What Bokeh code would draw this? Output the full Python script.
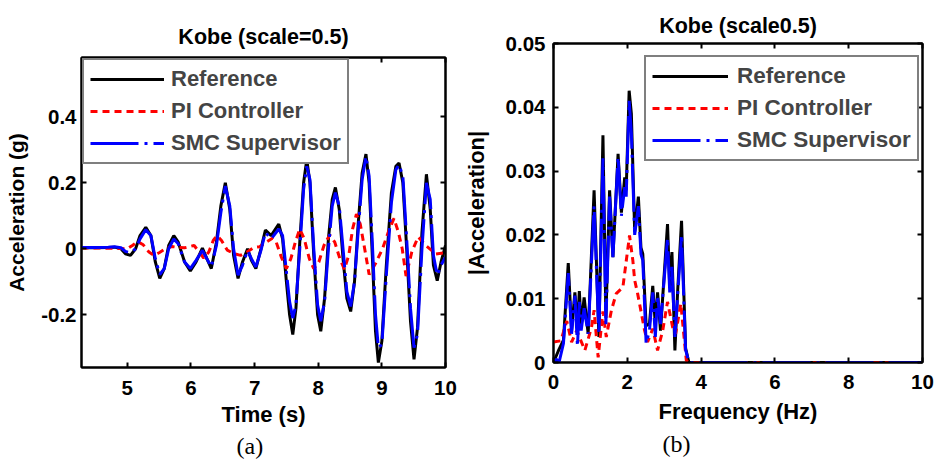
from bokeh.plotting import figure
from bokeh.layouts import row
from bokeh.models import LinearAxis, FixedTicker, Legend, LegendItem, Range1d, Title
from bokeh.embed import file_html
from bokeh.resources import INLINE

# ---------------- data: panel (a) time history ----------------
ref_t = [4.28, 4.5, 4.7, 4.8, 4.9, 4.97, 5.05, 5.13, 5.2, 5.29, 5.37, 5.44, 5.51, 5.58, 5.65, 5.73,
         5.8, 5.9, 5.99, 6.08, 6.18, 6.25, 6.32, 6.4, 6.47, 6.54, 6.61, 6.67, 6.74, 6.81, 6.89, 6.95,
         7.02, 7.1, 7.17, 7.26, 7.38, 7.44, 7.5, 7.55, 7.6, 7.65, 7.71, 7.77, 7.82, 7.87, 7.93, 7.99,
         8.04, 8.1, 8.16, 8.22, 8.27, 8.33, 8.39, 8.45, 8.51, 8.57, 8.63, 8.69, 8.75, 8.8, 8.85, 8.9,
         8.945, 9.0, 9.07, 9.15, 9.22, 9.27, 9.33, 9.39, 9.45, 9.505, 9.56, 9.63, 9.7, 9.76, 9.81,
         9.87, 9.93, 10.0]
ref_acc = [0.003, 0.003, 0.004, 0.005, 0.0, -0.015, -0.02, 0.0, 0.04, 0.065, 0.04, -0.04, -0.09, -0.06,
           0.01, 0.04, 0.02, -0.04, -0.067, -0.04, 0.002, -0.03, -0.06, 0.02, 0.13, 0.20, 0.12, -0.02,
           -0.09, -0.04, 0.0, -0.035, -0.06, 0.0, 0.057, 0.04, 0.075, 0.03, -0.1, -0.2, -0.26, -0.18,
           0.02, 0.2, 0.27, 0.2, -0.02, -0.2, -0.25, -0.15, 0.03, 0.15, 0.186, 0.12, -0.03, -0.15,
           -0.19, -0.1, 0.08, 0.23, 0.287, 0.2, -0.02, -0.25, -0.345, -0.28, -0.05, 0.17, 0.25, 0.26,
           0.2, 0.0, -0.22, -0.335, -0.24, 0.05, 0.226, 0.12, -0.05, -0.097, -0.04, 0.01]
smc_acc = [0.004, 0.004, 0.005, 0.006, 0.003, -0.008, -0.012, 0.0, 0.03, 0.058, 0.04, -0.03, -0.078,
           -0.06, 0.0, 0.03, 0.015, -0.04, -0.06, -0.035, -0.005, -0.03, -0.055, 0.01, 0.11, 0.19, 0.13,
           0.0, -0.08, -0.05, -0.005, -0.03, -0.055, -0.005, 0.05, 0.03, 0.06, 0.04, -0.07, -0.16, -0.21,
           -0.17, 0.0, 0.18, 0.25, 0.21, 0.0, -0.17, -0.22, -0.16, 0.0, 0.13, 0.17, 0.13, 0.0, -0.13,
           -0.175, -0.1, 0.06, 0.21, 0.28, 0.22, 0.02, -0.2, -0.3, -0.29, -0.08, 0.14, 0.24, 0.255, 0.22,
           0.03, -0.18, -0.30, -0.26, 0.0, 0.2, 0.15, -0.02, -0.08, -0.05, -0.025]
pi_t = [4.28, 4.6, 4.9, 5.0, 5.08, 5.16, 5.25, 5.34, 5.42, 5.5, 5.6, 5.7, 5.8, 5.9, 6.05, 6.13, 6.2,
        6.28, 6.35, 6.41, 6.48, 6.57, 6.68, 6.78, 6.88, 6.99, 7.08, 7.18, 7.28, 7.34, 7.42, 7.5, 7.57,
        7.64, 7.71, 7.78, 7.86, 7.93, 8.01, 8.09, 8.18, 8.26, 8.34, 8.41, 8.48, 8.54, 8.6, 8.66, 8.73,
        8.8, 8.9, 9.01, 9.1, 9.19, 9.26, 9.32, 9.38, 9.47, 9.57, 9.69, 9.85, 10.0]
pi_acc = [0.002, 0.002, 0.001, 0.0, 0.01, 0.022, 0.012, -0.01, -0.02, -0.012, 0.0, 0.007, 0.004, 0.003,
          0.01, -0.01, -0.028, -0.01, 0.025, 0.04, 0.025, -0.004, -0.015, -0.02, -0.01, 0.004, 0.006,
          0.02, 0.032, 0.02, -0.025, -0.06, -0.03, 0.02, 0.06, 0.03, -0.03, -0.06, -0.04, 0.01, 0.042,
          0.02, -0.03, -0.062, -0.02, 0.06, 0.105, 0.075, 0.0, -0.078, -0.045, 0.0, 0.05, 0.092, 0.05,
          0.0, -0.083, -0.01, 0.036, 0.01, -0.016, -0.012]

# ---------------- data: panel (b) spectrum ----------------
ref_f = [0, 0.13, 0.27, 0.40, 0.49, 0.58, 0.65, 0.70, 0.75, 0.83, 0.94, 1.10, 1.23, 1.34, 1.42, 1.52,
         1.61, 1.75, 1.84, 1.93, 1.97, 2.05, 2.11, 2.20, 2.30, 2.37, 2.42, 2.51, 2.60, 2.69, 2.76, 2.82,
         2.90, 3.09, 3.15, 3.21, 3.29, 3.37, 3.47, 3.58, 3.67, 10.0]
ref_mag = [0.0, 0.0018, 0.0035, 0.0156, 0.005, 0.011, 0.0055, 0.0112, 0.0058, 0.0102, 0.0045, 0.027,
           0.004, 0.0356, 0.007, 0.027, 0.0165, 0.0327, 0.0235, 0.029, 0.027, 0.0426, 0.039, 0.0205,
           0.026, 0.018, 0.017, 0.0058, 0.006, 0.012, 0.0058, 0.011, 0.005, 0.0217, 0.0118, 0.0173,
           0.0019, 0.0118, 0.0222, 0.0022, 0.0, 0.0]
smc_f = [0, 0.08, 0.15, 0.27, 0.40, 0.49, 0.58, 0.65, 0.70, 0.75, 0.83, 0.94, 1.10, 1.23, 1.34, 1.42,
         1.52, 1.61, 1.75, 1.84, 1.93, 1.97, 2.05, 2.11, 2.20, 2.30, 2.37, 2.42, 2.51, 2.60, 2.69, 2.76,
         2.82, 2.90, 3.09, 3.15, 3.21, 3.29, 3.37, 3.47, 3.58, 3.67, 10.0]
smc_mag = [0.0, 0.0005, 0.0, 0.003, 0.014, 0.0045, 0.0105, 0.0025, 0.0095, 0.005, 0.0085, 0.0045, 0.0245,
           0.0045, 0.032, 0.006, 0.026, 0.0165, 0.0322, 0.023, 0.0275, 0.026, 0.041, 0.036, 0.020,
           0.0245, 0.017, 0.016, 0.003, 0.005, 0.011, 0.004, 0.0105, 0.006, 0.0195, 0.011, 0.015, 0.004,
           0.011, 0.020, 0.002, 0.0, 0.0]
pi_f = [0, 0.2, 0.36, 0.49, 0.63, 0.85, 1.03, 1.10, 1.21, 1.34, 1.43, 1.57, 1.70, 1.88, 2.06, 2.15,
        2.20, 2.28, 2.47, 2.55, 2.69, 2.82, 2.96, 3.09, 3.23, 3.31, 3.45, 3.6, 3.7, 10.0]
pi_mag = [0.0032, 0.0034, 0.0065, 0.0032, 0.005, 0.0019, 0.0055, 0.0082, 0.0008, 0.008, 0.004, 0.0082,
          0.0108, 0.0118, 0.0199, 0.016, 0.0129, 0.0108, 0.005, 0.0032, 0.0053, 0.0019, 0.005, 0.0095,
          0.0055, 0.0045, 0.0092, 0.0003, 0.0, 0.0]

series_names = ["Reference", "PI Controller", "SMC Supervisor"]

a_xticks = [5, 6, 7, 8, 9, 10]
a_xlabels = ["5", "6", "7", "8", "9", "10"]
a_yticks = [-0.2, 0, 0.2, 0.4]
a_ylabels = ["-0.2", "0", "0.2", "0.4"]
b_xticks = [0, 2, 4, 6, 8, 10]
b_xlabels = ["0", "2", "4", "6", "8", "10"]
b_yticks = [0, 0.01, 0.02, 0.03, 0.04, 0.05]
b_ylabels = ["0", "0.01", "0.02", "0.03", "0.04", "0.05"]

SANS = "Liberation Sans"
SERIF = "Liberation Serif"


def setup_axis(ax, ticks, labels, label, tick_standoff, label_standoff, label_size):
    ax.ticker = FixedTicker(ticks=ticks)
    ax.major_label_overrides = {t: s for t, s in zip(ticks, labels)}
    ax.minor_tick_line_color = None
    ax.major_tick_in = 5
    ax.major_tick_out = 0
    ax.major_tick_line_width = 2
    ax.axis_line_width = 2
    ax.major_label_text_font = SANS
    ax.major_label_text_font_style = "bold"
    ax.major_label_text_font_size = "20.5px"
    ax.major_label_text_color = "black"
    ax.major_label_standoff = tick_standoff
    ax.axis_label = label
    ax.axis_label_text_font = SANS
    ax.axis_label_text_font_style = "bold"
    ax.axis_label_text_font_size = label_size
    ax.axis_label_text_color = "black"
    ax.axis_label_standoff = label_standoff


def tick_only_axis(ticks, gap):
    ax = LinearAxis(ticker=FixedTicker(ticks=ticks))
    ax.major_label_overrides = {t: "" for t in ticks}
    ax.major_label_text_font_size = "1px"
    ax.major_label_standoff = gap
    ax.minor_tick_line_color = None
    ax.major_tick_in = 5
    ax.major_tick_out = 0
    ax.major_tick_line_width = 2
    ax.axis_line_width = 2
    return ax


def make_panel(width, height, bl, br, bt, bb, xr, yr, xt, xl, yt, yl, xlabel, ylabel, ylabel_size,
               xtick_standoff, xlab_standoff, ytick_standoff, ylab_standoff,
               title, title_standoff, title_gap, caption, caption_offset, caption_standoff, xs, ys,
               legend_loc, legend_margin, glyph_w, legend_standoff, legend_size):
    p = figure(width=width, height=height, x_range=Range1d(*xr), y_range=Range1d(*yr),
               output_backend="svg", toolbar_location=None,
               min_border_left=bl, min_border_right=br, min_border_top=bt, min_border_bottom=bb)
    p.frame_align = False
    p.grid.visible = False
    p.outline_line_color = "black"
    p.outline_line_width = 2
    p.background_fill_color = "white"
    p.border_fill_color = "white"
    p.title.text = title
    p.title.align = "center"
    p.title.text_font = SANS
    p.title.text_font_style = "bold"
    p.title.text_font_size = "21.5px"
    p.title.text_color = "black"
    p.title.standoff = title_standoff
    setup_axis(p.xaxis[0], xt, xl, xlabel, xtick_standoff, xlab_standoff, "22px")
    setup_axis(p.yaxis[0], yt, yl, ylabel, ytick_standoff, ylab_standoff, ylabel_size)
    p.add_layout(tick_only_axis(xt, title_gap), "above")
    p.add_layout(tick_only_axis(yt, 0), "right")
    cap = Title(text=caption, align="left", offset=caption_offset, standoff=caption_standoff,
                text_font=SERIF, text_font_style="normal", text_font_size="24px",
                text_color="black")
    p.add_layout(cap, "below")

    r_ref = p.line(xs[0], ys[0], line_color="black", line_width=3)
    r_pi = p.line(xs[1], ys[1], line_color="red", line_width=3, line_dash="7 5")
    r_smc = p.line(xs[2], ys[2], line_color="blue", line_width=3, line_dash="48 6 3 6")
    leg = Legend(items=[LegendItem(label=series_names[0], renderers=[r_ref]),
                        LegendItem(label=series_names[1], renderers=[r_pi]),
                        LegendItem(label=series_names[2], renderers=[r_smc])],
                 location=legend_loc, margin=legend_margin, padding=6,
                 spacing=6, label_height=22,
                 glyph_width=glyph_w, glyph_height=20, label_standoff=legend_standoff,
                 label_text_font=SANS, label_text_font_style="bold",
                 label_text_font_size=legend_size,
                 border_line_color="black", border_line_width=2, background_fill_alpha=1.0)
    p.add_layout(leg)
    return p


# panel (a): page x 0..460, frame x 81..445, y 57..367
pa = make_panel(460, 460, 81, 15, 57, 93, (4.28, 10.0), (-0.36, 0.58),
                a_xticks, a_xlabels, a_yticks, a_ylabels,
                "Time (s)", "Acceleration (g)", "21px",
                13, 4, 5, 10,
                "Kobe (scale=0.5)", 17, 5, "(a)", 155, 2,
                [ref_t, pi_t, ref_t], [ref_acc, pi_acc, smc_acc],
                "top_left", 1, 74, 7, "22px")
# panel (b): page x 460..934, frame x 550..922, y 43..362
pb = make_panel(474, 460, 90, 12, 43, 98, (0, 10), (0, 0.05),
                b_xticks, b_xlabels, b_yticks, b_ylabels,
                "Frequency (Hz)", "|Acceleration|", "22px",
                12, 7, 8, 14,
                "Kobe (scale0.5)", 12, 5, "(b)", 109, 4,
                [ref_f, pi_f, smc_f], [ref_mag, pi_mag, smc_mag],
                (91, 201), 0, 76, 9, "22.5px")

layout = row(pa, pb)
open("out.html", "w").write(file_html(layout, INLINE))
